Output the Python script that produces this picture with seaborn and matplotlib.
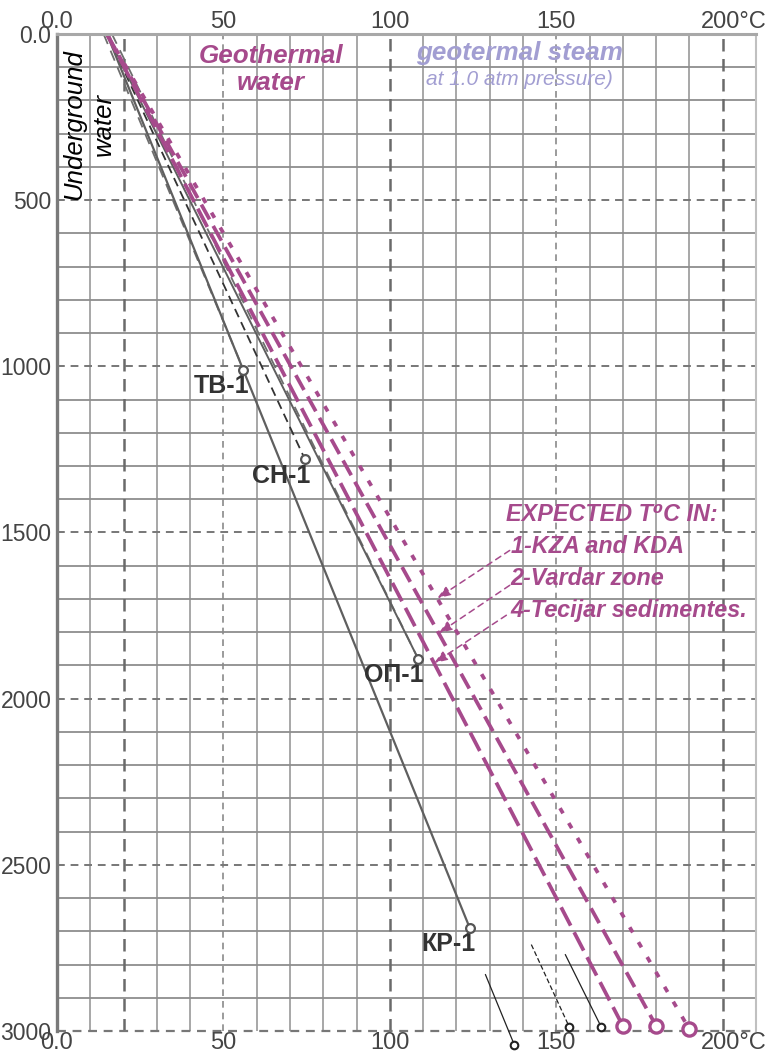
import matplotlib
matplotlib.use("Agg")
import matplotlib.pyplot as plt
import matplotlib.transforms as mtransforms
import seaborn as sns
import pandas as pd

# --- data ---
start_temp = 15.0          # surface temperature (deg C) where every profile starts
start_depth = 0.0

well_names = ["ТВ-1", "СН-1", "ОП-1", "КР-1"]
well_temp = [56.0, 74.5, 108.5, 124.0]
well_depth = [1010, 1280, 1880, 2690]

expected_names = ["1-KZA and KDA", "2-Vardar zone", "4-Tecijar sedimentes."]
expected_temp = [190.0, 180.0, 170.0]
expected_depth = [2995, 2985, 2985]

# small leader marks under the bottom axis (start T, start depth, end T, end depth)
mark_t0 = [128.7, 142.5, 152.7]
mark_d0 = [2830, 2740, 2770]
mark_t1 = [137.4, 153.9, 163.5]
mark_d1 = [3042, 2988, 2988]

# arrow tails of the legend pointers (T, depth)
arrow_tail_t = [136.0, 136.0, 135.0]
arrow_tail_d = [1554, 1659, 1749]

x_ticks = [0, 50, 100, 150, 200]
x_tick_labels = ["0.0", "50", "100", "150", "200°C"]
y_ticks = [0, 500, 1000, 1500, 2000, 2500, 3000]
y_tick_labels = ["0.0", "500", "1000", "1500", "2000", "2500", "3000"]

MAGENTA = "#a64a8c"
LAVENDER = "#a29ed2"
GREY = "#5f5f5f"
TEXT = "#333333"

sns.set_style("white")
plt.rcParams["font.family"] = ["Liberation Sans", "DejaVu Sans"]

fig = plt.figure(figsize=(7.68, 10.56), dpi=100, facecolor="white")
ax = fig.add_axes([0.0742, 0.0237, 0.9102, 0.9441])
ax.set_xlim(0, 210)
ax.set_ylim(3000, 0)

# grid: thin solid every 10 C / 100 m, dashed every 50 C / 500 m
for t in range(10, 210, 10):
    if t % 50 != 0 and t != 20:
        ax.axvline(t, color="#a0a0a0", lw=1.3, zorder=0)
for d in range(100, 3000, 100):
    if d % 500 != 0:
        ax.axhline(d, color="#8e8e8e", lw=1.3, zorder=0)
for t in [50, 150]:
    ax.axvline(t, color="#8a8a8a", lw=1.2, ls=(0, (4, 3)), zorder=0)
for t in [20, 100, 200]:
    ax.axvline(t, color="#6a6a6a", lw=1.8, ls=(0, (5, 3)), zorder=0)
for d in [500, 1000, 1500, 2000, 2500]:
    ax.axhline(d, color="#777777", lw=1.4, ls=(0, (4, 3)), zorder=0)
ax.axhline(3000, color="#777777", lw=1.6, ls=(0, (4, 3)), zorder=1, clip_on=False)

# measured well profiles
def seg(t0, d0, t1, d1, **kw):
    df = pd.DataFrame({"T": [t0, t1], "depth": [d0, d1]})
    sns.lineplot(data=df, x="T", y="depth", ax=ax, estimator=None, sort=False, **kw)

seg(start_temp - 1.0, start_depth, well_temp[0], well_depth[0], color="#6e6e6e", lw=1.3, ls=(0, (6, 4)))
seg(start_temp, start_depth, well_temp[1], well_depth[1], color="#333333", lw=1.3, ls=(0, (5, 3)))
seg(start_temp + 1.5, start_depth, well_temp[2], well_depth[2], color="#6e6e6e", lw=1.3, ls=(0, (6, 4)))
seg(start_temp, start_depth, well_temp[2], well_depth[2], color=GREY, lw=1.4)
seg(start_temp, start_depth, well_temp[3], well_depth[3], color=GREY, lw=1.6)

# expected profiles
styles = [(0, (1.6, 3.0)), (0, (4.5, 2.0)), (0, (5.5, 2.0))]
for t, d, st in zip(expected_temp, expected_depth, styles):
    seg(start_temp, start_depth, t, d, color=MAGENTA, lw=2.7, ls=st)

wells = pd.DataFrame({"T": well_temp, "depth": well_depth})
sns.scatterplot(data=wells, x="T", y="depth", ax=ax, s=40, marker="o",
                facecolor="white", edgecolor="#555555", linewidth=1.6, zorder=5)
exp = pd.DataFrame({"T": expected_temp, "depth": expected_depth})
sns.scatterplot(data=exp, x="T", y="depth", ax=ax, s=90, marker="o",
                facecolor="white", edgecolor=MAGENTA, linewidth=2.4, zorder=6, clip_on=False)

# well labels
for name, t, d in zip(well_names, well_temp, well_depth):
    ax.annotate(name, (t, d), xytext=(4, -3), textcoords="offset points",
                ha="right", va="top", fontsize=18, fontweight="bold", color=TEXT)

# leader marks below the axis
for i in range(3):
    st = (0, (4, 2)) if i == 1 else "-"
    ax.plot([mark_t0[i], mark_t1[i]], [mark_d0[i], mark_d1[i]], color="#222222",
            lw=0.9, ls=st, clip_on=False)
marks = pd.DataFrame({"T": mark_t1, "depth": mark_d1})
sns.scatterplot(data=marks, x="T", y="depth", ax=ax, s=30, marker="o",
                facecolor="white", edgecolor="#222222", linewidth=1.5, zorder=6, clip_on=False)

# pointers from the legend text to the expected lines
for tt, td, et, ed in zip(arrow_tail_t, arrow_tail_d, expected_temp, expected_depth):
    head_d = td + 144
    head_t = start_temp + (et - start_temp) * (head_d - start_depth) / ed
    ax.annotate("", xy=(head_t, head_d), xytext=(tt, td),
                arrowprops=dict(arrowstyle="-|>,head_length=0.8,head_width=0.3",
                                color=MAGENTA, lw=1.1, ls=(0, (4, 3)),
                                shrinkA=0, shrinkB=0))

# text blocks
ax.text(135.0, 1446, "EXPECTED T⁰C IN:", ha="left", va="center", fontsize=16.8,
        fontweight="bold", style="italic", color=MAGENTA)
for i, name in enumerate(expected_names):
    ax.text(136.3, 1542 + 96 * i, name, ha="left", va="center", fontsize=16.8,
            fontweight="bold", style="italic", color=MAGENTA)

ax.text(64.2, 108, "Geothermal\nwater", ha="center", va="center", fontsize=18.7,
        fontweight="bold", style="italic", color=MAGENTA, linespacing=1.15)
ax.text(138.9, 57, "geotermal steam", ha="center", va="center", fontsize=18.7,
        fontweight="bold", style="italic", color=LAVENDER)
ax.text(138.9, 138, "at 1.0 atm pressure)", ha="center", va="center", fontsize=15,
        style="italic", color=LAVENDER)
ax.text(9.5, 273, "Underground\nwater", ha="center", va="center", fontsize=18.5,
        style="italic", color="black", rotation=90, multialignment="center",
        linespacing=1.3)

# axes, ticks
ax.set_xlabel("")
ax.set_ylabel("")
ax.set_xticks(x_ticks)
ax.set_xticklabels(x_tick_labels)
ax.set_yticks(y_ticks)
ax.set_yticklabels(y_tick_labels)
ax.tick_params(axis="x", which="both", length=0, labelsize=17, labelcolor="#444444",
               top=True, labeltop=True, bottom=True, labelbottom=True, pad=1)
ax.tick_params(axis="y", length=0, labelsize=16.5, labelcolor="#444444", pad=4)
shift = mtransforms.ScaledTranslation(11 / 100, 0, fig.dpi_scale_trans)
for tick in ax.xaxis.get_major_ticks():
    if tick.label1.get_text().endswith("C"):
        tick.label1.set_transform(tick.label1.get_transform() + shift)
        tick.label2.set_transform(tick.label2.get_transform() + shift)

ax.spines["left"].set_color("#7a7a7a")
ax.spines["left"].set_linewidth(2.4)
ax.spines["top"].set_color("#a8a8a8")
ax.spines["top"].set_linewidth(2.2)
ax.spines["right"].set_color("#c0c0c0")
ax.spines["right"].set_linewidth(1.5)
ax.spines["bottom"].set_visible(False)

fig.savefig("out.png", dpi=100, facecolor="white")
plt.close(fig)
